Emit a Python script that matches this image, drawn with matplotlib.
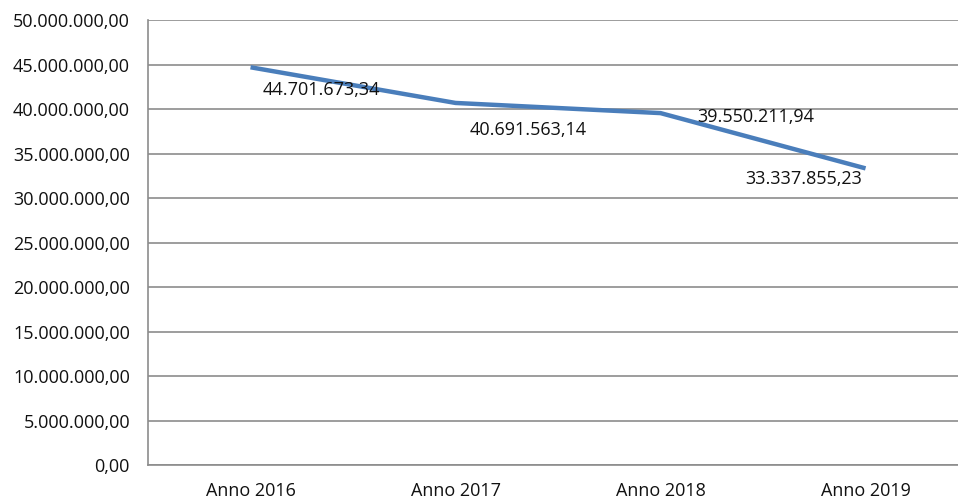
import matplotlib
matplotlib.use("Agg")
import matplotlib.pyplot as plt
from matplotlib.ticker import FuncFormatter, MultipleLocator

categories = ["Anno 2016", "Anno 2017", "Anno 2018", "Anno 2019"]
values = [44701673.34, 40691563.14, 39550211.94, 33337855.23]
value_labels = ["44.701.673,34", "40.691.563,14", "39.550.211,94", "33.337.855,23"]

plt.rcParams["font.family"] = ["Open Sans", "DejaVu Sans"]

fig = plt.figure(figsize=(9.58, 5.03), dpi=100)
ax = fig.add_axes([0.1545, 0.0755, 0.856, 0.8845])

x = [i + 0.5 for i in range(len(categories))]
ax.plot(x, values, color="#4a7ebb", linewidth=3.2, solid_capstyle="butt",
        solid_joinstyle="round", zorder=3)

# label offsets in pixels (dx, dy) relative to each point
offsets = [(12, -23), (14, -27), (37, -4), (-62, -11)]
for xi, v, lab, (dx, dy) in zip(x, values, value_labels, offsets):
    ha = "left"
    if dx < 0:
        ha = "center"
    ax.annotate(lab, (xi, v), xytext=(dx * 0.72, dy * 0.72), textcoords="offset points",
                ha=ha, va="center", fontsize=13, color="#111111", zorder=4)

ax.set_xlim(0, len(categories))
ax.set_ylim(0, 50_000_000)
ax.yaxis.set_major_locator(MultipleLocator(5_000_000))


def fmt(v, _):
    s = f"{v:,.2f}"
    return s.replace(",", "X").replace(".", ",").replace("X", ".")


ax.yaxis.set_major_formatter(FuncFormatter(fmt))
ax.set_xticks(x)
ax.set_xticklabels(categories)

ax.grid(axis="y", color="#8c8c8c", linewidth=1.2)
ax.set_axisbelow(True)
for side in ("top", "right"):
    ax.spines[side].set_visible(False)
ax.spines["left"].set_color("#8c8c8c")
ax.spines["bottom"].set_color("#8c8c8c")
ax.spines["left"].set_linewidth(1.2)
ax.spines["bottom"].set_linewidth(1.2)

ax.tick_params(axis="y", length=0, pad=13, labelsize=13, labelcolor="#111111")
ax.tick_params(axis="x", length=0, pad=12, labelsize=13, labelcolor="#111111")

fig.savefig("out.png", dpi=100)
